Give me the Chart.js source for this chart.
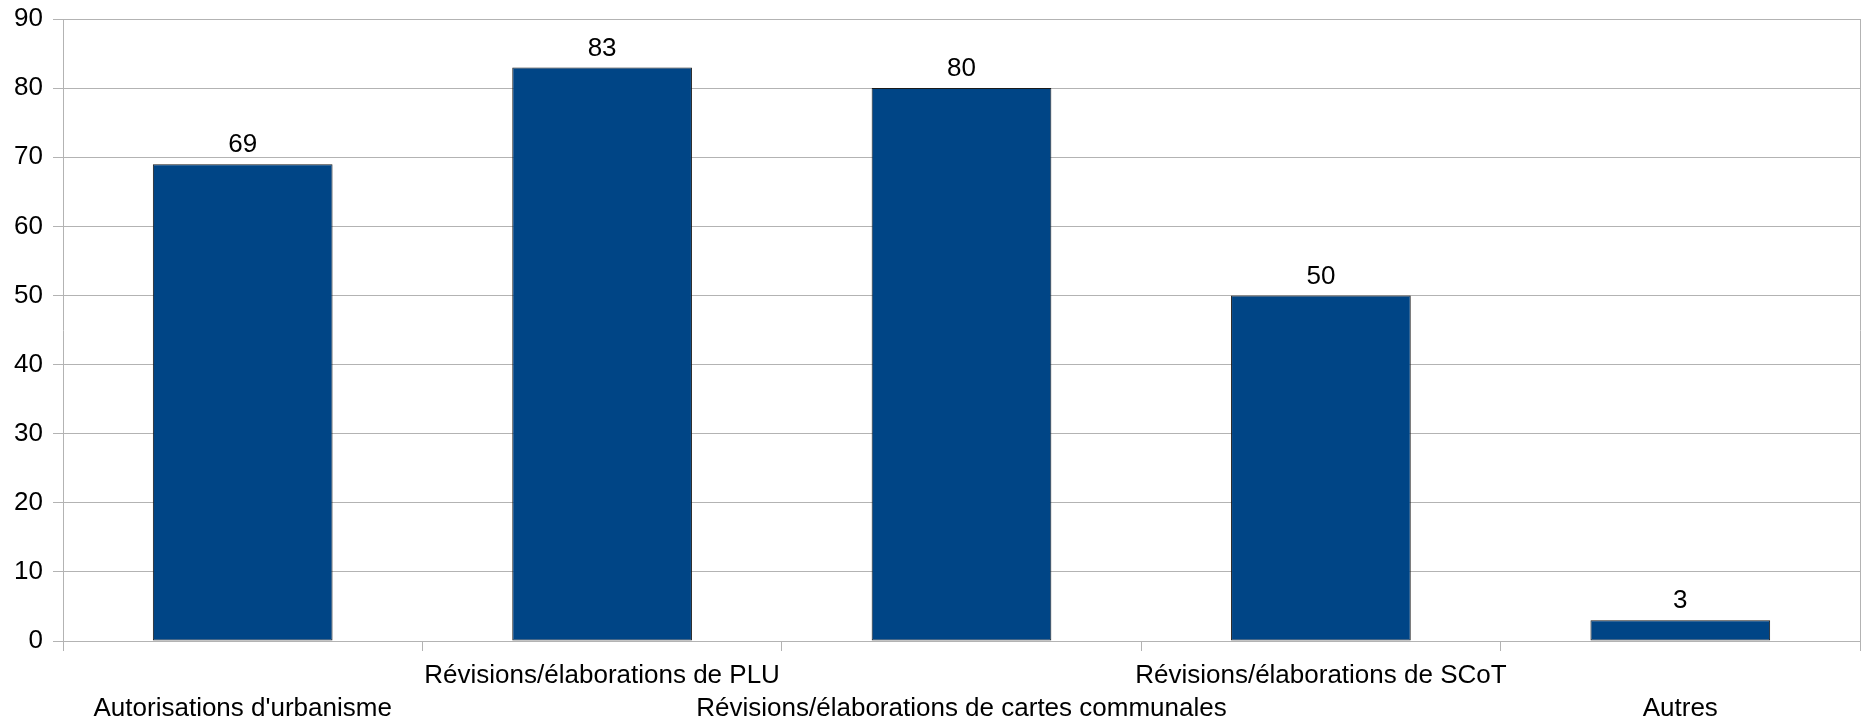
<!DOCTYPE html>
<html>
<head>
<meta charset="utf-8">
<script src="https://cdn.jsdelivr.net/npm/chart.js@4/dist/chart.umd.min.js"></script>
<style>
  html, body { margin: 0; padding: 0; background: #ffffff; }
  #wrap { width: 1865px; height: 728px; position: relative; }
</style>
</head>
<body>
<div id="wrap"><canvas id="c" width="1865" height="728"></canvas></div>
<script>
const categories = [
  "Autorisations d'urbanisme",
  "Révisions/élaborations de PLU",
  "Révisions/élaborations de cartes communales",
  "Révisions/élaborations de SCoT",
  "Autres"
];
const values = [69, 83, 80, 50, 3];
const yTicks = [0, 10, 20, 30, 40, 50, 60, 70, 80, 90];

const FONT = "'Liberation Sans', Arial, sans-serif";
const GRID = '#b3b3b3';

// staggered labels: even index on second line, odd index on first line
const staggered = categories.map((c, i) => i % 2 === 0 ? ['', c] : [c]);

const valueLabels = {
  id: 'valueLabels',
  afterDatasetsDraw(chart) {
    const ctx = chart.ctx;
    const meta = chart.getDatasetMeta(0);
    ctx.save();
    ctx.font = '26px ' + FONT;
    ctx.fillStyle = '#000000';
    ctx.textAlign = 'center';
    ctx.textBaseline = 'middle';
    meta.data.forEach((bar, i) => {
      ctx.fillText(String(values[i]), bar.x, bar.y - 19);
    });
    ctx.restore();
  }
};

new Chart(document.getElementById('c'), {
  type: 'bar',
  data: {
    labels: staggered,
    datasets: [{
      data: values,
      backgroundColor: '#004586',
      borderColor: '#1a1a1a',
      borderWidth: 1,
      borderSkipped: false,
      barPercentage: 0.5,
      categoryPercentage: 1.0
    }]
  },
  options: {
    responsive: false,
    animation: false,
    devicePixelRatio: 1,
    layout: { padding: { top: 19, right: 5, bottom: 0, left: 0 } },
    plugins: { legend: { display: false }, tooltip: { enabled: false } },
    scales: {
      x: {
        offset: true,
        grid: {
          offset: true,
          drawOnChartArea: false,
          drawTicks: true,
          tickLength: 10,
          color: GRID,
          tickColor: GRID
        },
        border: { display: true, color: GRID, width: 1 },
        ticks: {
          autoSkip: false,
          maxRotation: 0,
          minRotation: 0,
          padding: 8,
          color: '#000000',
          font: { family: FONT, size: 26, lineHeight: 1.27 }
        },
        afterFit(scale) { scale.height = 87; scale.paddingLeft = 0; scale.paddingRight = 0; }
      },
      y: {
        min: 0,
        max: 90,
        afterBuildTicks(scale) { scale.ticks = yTicks.map(v => ({ value: v })); },
        grid: {
          color: GRID,
          tickColor: GRID,
          tickLength: 10,
          drawTicks: true
        },
        border: { display: true, color: GRID, width: 1 },
        ticks: {
          padding: 10,
          color: '#000000',
          font: { family: FONT, size: 26 }
        },
        afterFit(scale) { scale.width = 63; scale.paddingTop = 0; scale.paddingBottom = 0; }
      },
      yR: {
        position: 'right',
        min: 0,
        max: 90,
        grid: { display: false, drawTicks: false },
        ticks: { display: false },
        border: { display: true, color: GRID, width: 1 },
        afterFit(scale) { scale.width = 0; scale.paddingTop = 0; scale.paddingBottom = 0; }
      }
    }
  },
  plugins: [valueLabels]
});
</script>
</body>
</html>
